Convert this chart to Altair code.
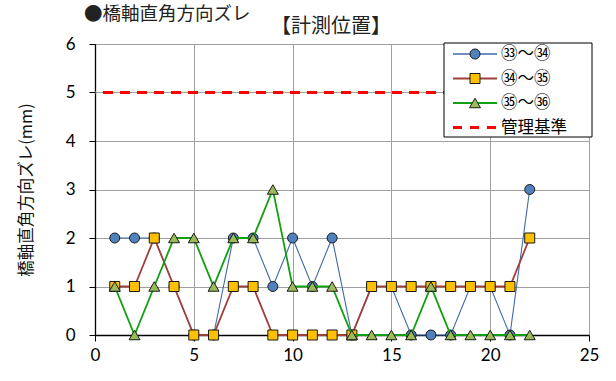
import altair as alt
import pandas as pd

# --- data -------------------------------------------------------------
positions = list(range(1, 23))
s33_34 = [2, 2, 2, 1, 0, 0, 2, 2, 1, 2, 1, 2, 0, 1, 1, 0, 0, 0, 1, 1, 0, 3]
s34_35 = [1, 1, 2, 1, 0, 0, 1, 1, 0, 0, 0, 0, 0, 1, 1, 1, 1, 1, 1, 1, 1, 2]
s35_36 = [1, 0, 1, 2, 2, 1, 2, 2, 3, 1, 1, 1, 0, 0, 0, 0, 1, 0, 0, 0, 0, 0]
series_names = ["㉝～㉞", "㉞～㉟", "㉟～㊱"]
limit_label = "管理基準"
limit_value = 5
x_ticks = [0, 5, 10, 15, 20, 25]
y_ticks = [0, 1, 2, 3, 4, 5, 6]
title_main = "●橋軸直角方向ズレ"
title_sub = "【計測位置】"
y_title = "橋軸直角方向ズレ(mm)"

# --- styling ----------------------------------------------------------
JP = "Noto Sans CJK JP"
NUM = "Lato"
W, H = 494, 291

styles = [
    dict(line="#3F6AA8", lw=1.1, shape="circle", fill="#4F81BD", size=100),
    dict(line="#A0403C", lw=1.8, shape="square", fill="#FFC000", size=100),
    dict(line="#11A011", lw=1.8, shape="triangle-up", fill="#9BBB59", size=120),
]

xs = alt.Scale(domain=[0, 25], nice=False, zero=False)
ys = alt.Scale(domain=[0, 6], nice=False, zero=False)

x_axis = alt.Axis(values=x_ticks, grid=True, gridColor="#a0a0a0", gridWidth=1,
                  domainColor="black", domainWidth=1.3, tickColor="black",
                  tickSize=6, labelFont=NUM, labelFontSize=17, labelColor="black",
                  labelPadding=6, title=None, labelFlush=False)
y_axis = alt.Axis(values=y_ticks, grid=True, gridColor="#a0a0a0", gridWidth=1,
                  domainColor="black", domainWidth=1.3, tickColor="black",
                  tickSize=6, labelFont=NUM, labelFontSize=17, labelColor="black",
                  labelPadding=14, title=y_title, titleFont=JP, titleFontSize=16.5,
                  titleFontWeight="normal", titleColor="#111111", titleAngle=270,
                  titleAlign="center", titleBaseline="middle",
                  titleX=-69, titleY=H / 2, labelFlush=False)

layers = []

# control limit (dashed red)
limit_df = pd.DataFrame({"y": [limit_value]})
layers.append(
    alt.Chart(limit_df).mark_rule(color="#FF0000", strokeWidth=3, strokeDash=[10, 7])
    .encode(y=alt.Y("y:Q", scale=ys, axis=y_axis))
)

series_values = [s33_34, s34_35, s35_36]
for name, vals, st in zip(series_names, series_values, styles):
    df = pd.DataFrame({"pos": positions, "val": vals, "series": name})
    base = alt.Chart(df).encode(
        x=alt.X("pos:Q", scale=xs, axis=x_axis),
        y=alt.Y("val:Q", scale=ys, axis=y_axis),
    )
    layers.append(base.mark_line(color=st["line"], strokeWidth=st["lw"]))
    layers.append(base.mark_point(shape=st["shape"], filled=True, fill=st["fill"],
                                  stroke="#1a1a1a", strokeWidth=1, size=st["size"],
                                  opacity=1))

# legend box
legend_left, legend_right = 349, 497
legend_top, legend_bottom = -1, 93
box_df = pd.DataFrame({"k": [0]})
layers.append(
    alt.Chart(box_df).mark_rect(fill="white", stroke="black", strokeWidth=1)
    .encode(x=alt.value(legend_left), x2=alt.value(legend_right),
            y=alt.value(legend_top), y2=alt.value(legend_bottom))
)

row_y = [10, 34.5, 59, 83.5]
line_x0, line_x1, sym_x, text_x = 358, 402, 380, 406
legend_font = 16.5
for i, (name, st) in enumerate(zip(series_names, styles)):
    row_df = pd.DataFrame({"label": [name]})
    rc = alt.Chart(row_df)
    layers.append(rc.mark_rule(color=st["line"], strokeWidth=st["lw"] + 0.3)
                  .encode(x=alt.value(line_x0), x2=alt.value(line_x1), y=alt.value(row_y[i])))
    layers.append(rc.mark_point(shape=st["shape"], filled=True, fill=st["fill"],
                                stroke="#1a1a1a", strokeWidth=1, size=st["size"], opacity=1)
                  .encode(x=alt.value(sym_x), y=alt.value(row_y[i])))
    layers.append(rc.mark_text(align="left", baseline="middle", font=JP,
                               fontSize=legend_font, color="black")
                  .encode(text="label:N", x=alt.value(text_x), y=alt.value(row_y[i])))

lim_df = pd.DataFrame({"label": [limit_label]})
lc = alt.Chart(lim_df)
layers.append(lc.mark_rule(color="#FF0000", strokeWidth=3, strokeDash=[9, 8])
              .encode(x=alt.value(line_x0), x2=alt.value(line_x1), y=alt.value(row_y[3])))
layers.append(lc.mark_text(align="left", baseline="middle", font=JP,
                           fontSize=legend_font, color="black")
              .encode(text="label:N", x=alt.value(text_x), y=alt.value(row_y[3])))

# headings
t1 = pd.DataFrame({"t": [title_main]})
layers.append(alt.Chart(t1).mark_text(align="left", baseline="middle", font=JP,
                                      fontSize=18.5, color="#222222")
              .encode(text="t:N", x=alt.value(-11), y=alt.value(-30)))
t2 = pd.DataFrame({"t": [title_sub]})
layers.append(alt.Chart(t2).mark_text(align="center", baseline="middle", font=JP,
                                      fontSize=20, color="#222222")
              .encode(text="t:N", x=alt.value(236), y=alt.value(-17)))

chart = (
    alt.layer(*layers)
    .properties(width=W, height=H,
                autosize=alt.AutoSizeParams(type="none"),
                padding={"left": 95, "top": 44, "right": 27, "bottom": 46})
    .configure_view(stroke="#3a3a3a", strokeWidth=1.3)
    .configure(background="white")
)

chart.save("out.html", embed_options={"renderer": "svg", "actions": False})
